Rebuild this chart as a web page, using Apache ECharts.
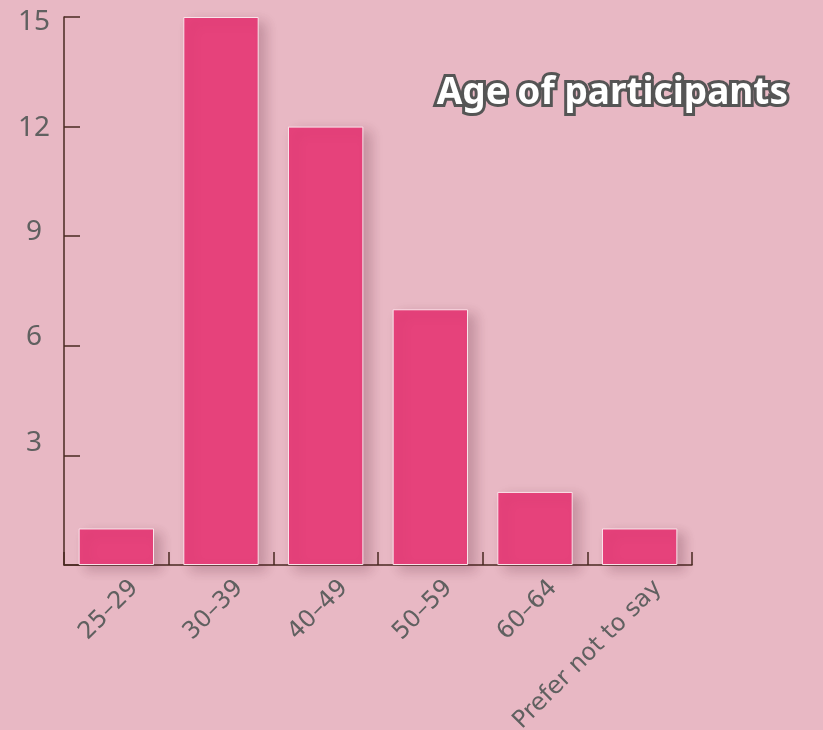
<!DOCTYPE html>
<html>
<head>
<meta charset="utf-8">
<title>Age of participants</title>
<script src="https://cdn.jsdelivr.net/npm/echarts@6/dist/echarts.min.js"></script>
<style>
  html, body { margin: 0; padding: 0; background: #e8b8c4; }
</style>
</head>
<body>
<div id="chart" style="width: 823px; height: 730px;"></div>
<script type="text/javascript">
  // age groups and number of participants
  var categories = ['25–29', '30–39', '40–49', '50–59', '60–64', 'Prefer not to say'];
  var counts = [1, 15, 12, 7, 2, 1];

  var axisColor = '#4a2a22';
  var labelColor = '#606060';

  // the value labels sit a little off their ticks in the original, drifting upward
  var yLabelNudge = {
    15: [10, 0, 0, 0],
    12: [2, 0, 0, 0],
    9: [0, 0, 8, 0],
    6: [0, 0, 17, 0],
    3: [0, 0, 24, 0]
  };
  var yRich = {};
  Object.keys(yLabelNudge).forEach(function (k) {
    yRich['v' + k] = {
      fontFamily: 'Noto Sans',
      fontSize: 28,
      color: labelColor,
      align: 'center',
      padding: yLabelNudge[k]
    };
  });

  var myChart = echarts.init(document.getElementById('chart'));
  var option = {
    backgroundColor: '#e8b8c4',
    animation: false,
    title: {
      text: 'Age of participants',
      right: 24,
      top: 70,
      textStyle: {
        fontFamily: 'Noto Sans',
        fontWeight: 'bold',
        fontSize: 37,
        color: '#ffffff',
        textBorderColor: '#555555',
        textBorderWidth: 6
      }
    },
    grid: {
      left: 64,
      right: 131,
      top: 17,
      bottom: 165,
      outerBoundsMode: 'none'
    },
    xAxis: {
      type: 'category',
      data: categories,
      axisLine: { lineStyle: { color: axisColor, width: 1.5 } },
      axisTick: {
        show: true,
        inside: true,
        length: 13,
        lineStyle: { color: axisColor, width: 1.5 }
      },
      axisLabel: {
        rotate: 45,
        margin: 1,
        interval: 0,
        verticalAlign: 'top',
        padding: [14, 0, 0, 0],
        fontFamily: '"DejaVu Sans", sans-serif',
        fontSize: 24,
        color: labelColor
      }
    },
    yAxis: {
      type: 'value',
      min: 0,
      max: 15,
      interval: 3,
      axisLine: { show: true, lineStyle: { color: axisColor, width: 1.5 } },
      axisTick: {
        show: true,
        inside: true,
        length: 16,
        lineStyle: { color: axisColor, width: 1.5 }
      },
      splitLine: { show: false },
      axisLabel: {
        margin: 30,
        align: 'center',
        fontFamily: 'Noto Sans',
        fontSize: 28,
        color: labelColor,
        rich: yRich,
        formatter: function (v) {
          if (v === 0) return '';
          return '{v' + v + '|' + v + '}';
        }
      }
    },
    series: [{
      type: 'bar',
      data: counts,
      barCategoryGap: '28%',
      itemStyle: {
        color: '#e6427b',
        borderColor: '#fbe3ea',
        borderWidth: 1,
        shadowColor: 'rgba(80, 20, 40, 0.24)',
        shadowBlur: 12,
        shadowOffsetX: 7,
        shadowOffsetY: 5
      }
    }]
  };
  myChart.setOption(option);
</script>
</body>
</html>
